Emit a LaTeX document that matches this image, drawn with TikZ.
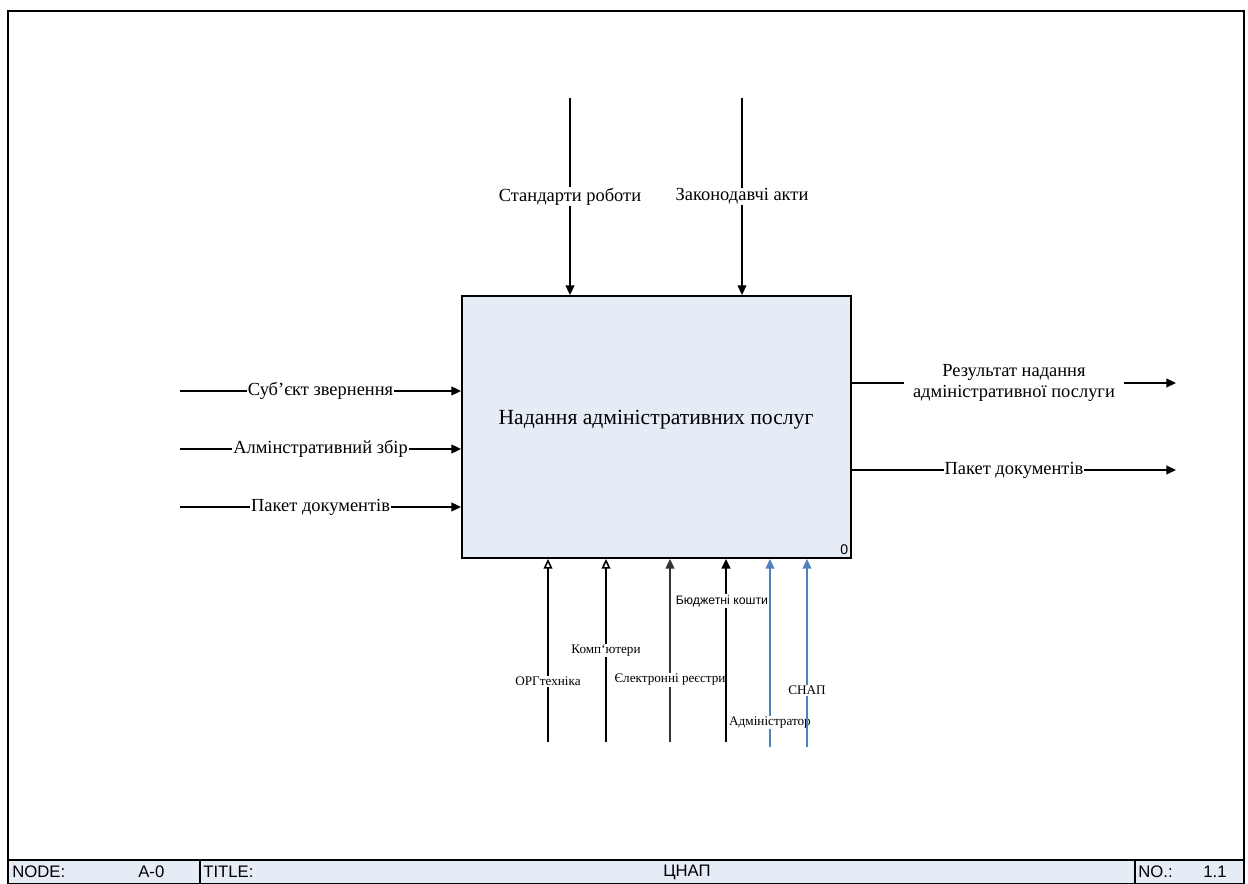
\documentclass[tikz,border=0pt]{standalone}
\usepackage{fontspec}
\setmainfont{Liberation Serif}
\newfontfamily\arialfont{Liberation Sans}
\usetikzlibrary{arrows.meta,positioning,calc}
\definecolor{idefblue}{RGB}{230,236,246}
\definecolor{mechblue}{RGB}{79,129,189}

\begin{document}
\begin{tikzpicture}[x=0.02cm, y=-0.02cm,
    flow/.style={-{Triangle[length=5.5pt,width=5pt]}, line width=0.9pt},
    openflow/.style={-{Triangle[open,fill=white,length=5.5pt,width=5pt]}, line width=0.9pt},
    lbl/.style={fill=white, text=black, inner sep=0.6pt, font=\fontsize{10.5}{12}\selectfont},
    smalllbl/.style={fill=white, text=black, inner sep=0.6pt, font=\fontsize{7.5}{9}\selectfont},
    foot/.style={font=\arialfont\fontsize{9.5}{11}\selectfont, anchor=west, inner sep=0pt}]
    \useasboundingbox (0,0) rectangle (1248,884);

    % Frame
    \draw[line width=1pt] (8,884) -- (8,11) -- (1244,11) -- (1244,884);

    % Footer
    \draw[fill=idefblue, line width=0.8pt] (8,860) rectangle (1244,884);
    \draw[line width=0.6pt] (200,860) -- (200,884);
    \draw[line width=0.6pt] (1135,860) -- (1135,884);
    \node[foot] (fnode) at (12,872) {NODE:};
    \node[foot] (fnum) at (138,872) {A-0};
    \node[foot] (ftitle) at (203,872) {TITLE:};
    \node[foot, anchor=center] (fname) at (687,872) {ЦНАП};
    \node[foot] (fno) at (1138,872) {NO.:};
    \node[foot] (fver) at (1203,872) {1.1};

    % Activity box
    \node[draw, fill=idefblue, line width=1.1pt, minimum width=7.78cm, minimum height=5.24cm, inner sep=0pt] (box) at (656.5,427) {};
    \node[font=\fontsize{12.3}{14}\selectfont] (title) at (656,420) {Надання адміністративних послуг};
    \node[font=\arialfont\fontsize{8}{9}\selectfont, anchor=south east, inner sep=2pt] (boxnum) at (box.south east) {0};

    % Controls
    \coordinate (c1) at (570,98);
    \coordinate (c2) at (742,98);
    \draw[flow] (c1) -- (c1 |- box.north) node[lbl, midway] (lc1) {Стандарти роботи};
    \draw[flow, line width=0.6pt] (c2) -- (c2 |- box.north) node[lbl, midway] (lc2) {Законодавчі акти};

    % Inputs
    \coordinate (in1) at (180,391);
    \coordinate (in2) at (180,449);
    \coordinate (in3) at (180,507);
    \draw[flow] (in1) -- (box.west |- in1) node[lbl, midway] (lin1) {Суб’єкт звернення};
    \draw[flow] (in2) -- (box.west |- in2) node[lbl, midway] (lin2) {Алмінстративний збір};
    \draw[flow] (in3) -- (box.west |- in3) node[lbl, midway] (lin3) {Пакет документів};

    % Outputs
    \coordinate (out1) at (1176,383);
    \coordinate (out2) at (1176,470);
    \draw[flow] (box.east |- out1) -- (out1) node[lbl, midway, align=center, inner xsep=5pt] (lout1) {Результат надання\\адміністративної послуги};
    \draw[flow] (box.east |- out2) -- (out2) node[lbl, midway] (lout2) {Пакет документів};

    % Mechanisms
    \coordinate (m1) at (548,742);
    \coordinate (m2) at (606,742);
    \coordinate (m3) at (670,742);
    \coordinate (m4) at (726,742);
    \coordinate (m5) at (770,747);
    \coordinate (m6) at (807,747);
    \draw[openflow] (m1) -- (m1 |- box.south) node[smalllbl, pos=0.33] (lm1) {ОРГтехніка};
    \draw[openflow] (m2) -- (m2 |- box.south) node[smalllbl, pos=0.5] (lm2) {Комп`ютери};
    \draw[flow, draw=black!80] (m3) -- (m3 |- box.south) node[smalllbl, pos=0.34] (lm3) {Єлектронні реєстри};
    \draw[flow, line width=1.1pt] (m4) -- (m4 |- box.south) node[smalllbl, pos=0.77, xshift=-0.08cm, font=\arialfont\fontsize{7}{8}\selectfont] (lm4) {Бюджетні кошти};
    \draw[flow, draw=mechblue, fill=mechblue, line width=0.8pt] (m5) -- (m5 |- box.south) node[smalllbl, pos=0.13] (lm5) {Адміністратор};
    \draw[flow, draw=mechblue, fill=mechblue, line width=0.8pt] (m6) -- (m6 |- box.south) node[smalllbl, pos=0.30] (lm6) {СНАП};
\end{tikzpicture}
\end{document}
